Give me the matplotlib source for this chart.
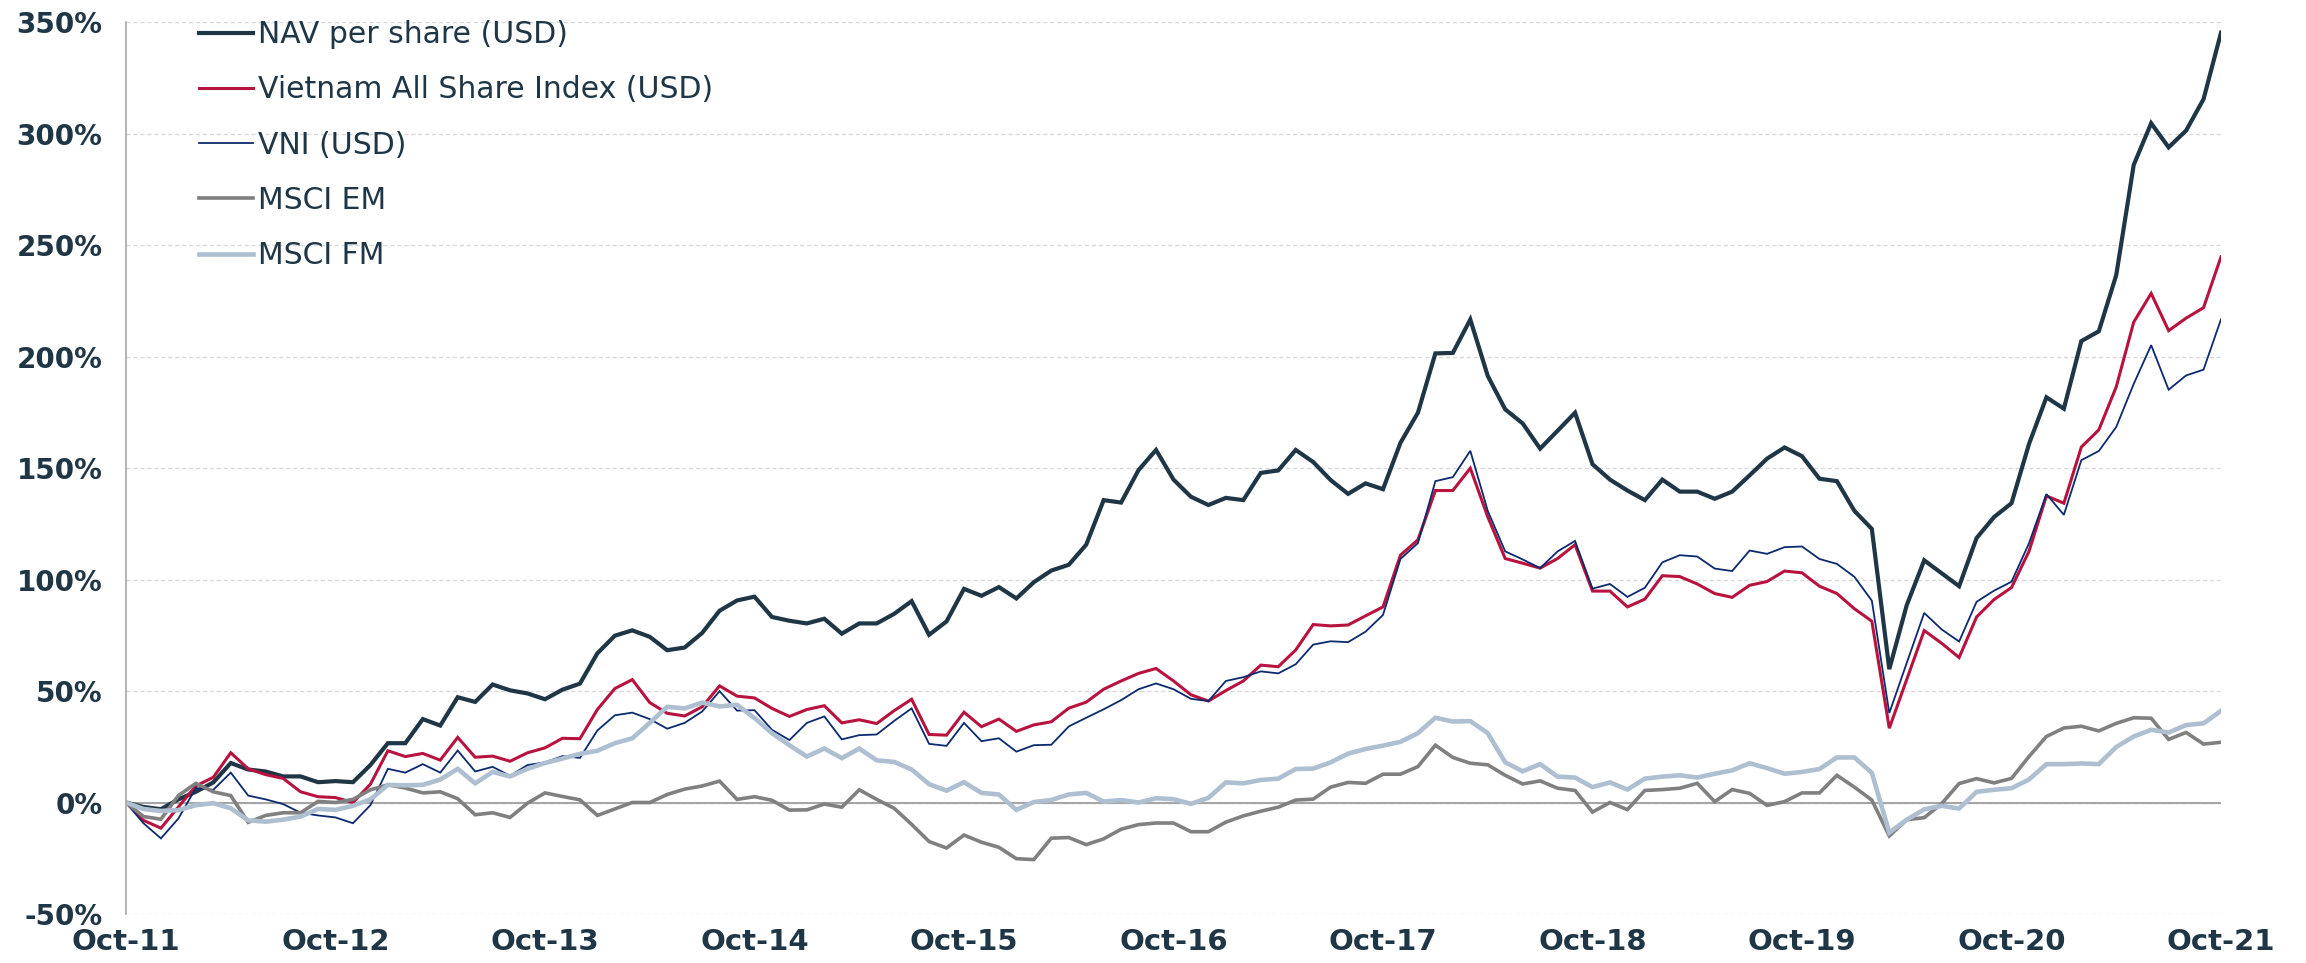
import numpy as np
import matplotlib
matplotlib.use('Agg')
import matplotlib.pyplot as plt
from matplotlib.ticker import FuncFormatter

# Dados mensais (Oct-11 .. Oct-21), retorno acumulado em %
nav = [
    0, -2, -3, 1.4, 4.8, 9, 17.7, 14.8, 13.9, 11.7,
    11.7, 9.1, 9.6, 9.1, 16.8, 26.6, 26.6, 37.4, 34.5, 47.2,
    45.1, 52.9, 50.3, 48.9, 46.3, 50.6, 53.3, 66.9, 74.8, 77.2,
    74.3, 68.3, 69.5, 76, 86, 90.6, 92.3, 83.2, 81.5, 80.3,
    82.4, 75.7, 80.3, 80.3, 84.6, 90.3, 75.2, 81.2, 95.8, 92.7,
    96.6, 91.5, 98.8, 104, 106.6, 115.6, 135.6, 134.5, 149.1, 158.1,
    144.8, 137.1, 133.4, 136.6, 135.6, 147.8, 148.9, 158.1, 152.7, 144.6,
    138.4, 143.1, 140.5, 161.3, 174.8, 201.4, 201.6, 216.6, 191.3, 176.3,
    170, 158.7, 166.7, 174.8, 151.7, 144.8, 139.9, 135.6, 144.8, 139.4,
    139.4, 136.2, 139.4, 146.7, 154.2, 159.2, 155.3, 145.2, 144.1, 130.8,
    122.7, 59.8, 88.5, 108.6, 102.8, 97, 118.6, 128, 134.2, 160.7,
    181.7, 176.6, 206.9, 211.3, 236.5, 285.9, 304.6, 293.8, 301.3, 315.4,
    345.2,
]

vnas = [
    0, -8, -11.5, -2, 7.4, 11.3, 22.3, 15.1, 12.5, 10.8,
    4.8, 2.6, 2.2, 0, 8.2, 23.2, 20.6, 22, 19, 29.2,
    20.3, 20.8, 18.5, 22.3, 24.5, 28.8, 28.6, 41.7, 51.1, 55.1,
    44.8, 40, 38.8, 42.9, 52.3, 47.7, 46.9, 42.2, 38.6, 41.7,
    43.4, 35.7, 37.1, 35.4, 41.2, 46.3, 30.5, 30.2, 40.5, 34,
    37.4, 31.9, 34.8, 36.2, 42.3, 45, 50.8, 54.5, 57.9, 60.1,
    54.5, 48.3, 45.5, 50.2, 54.5, 61.6, 60.9, 68.4, 79.8, 79.2,
    79.6, 83.7, 87.7, 110.9, 117.8, 139.9, 139.9, 149.9, 128.1, 109.4,
    107.3, 105.1, 109.4, 115.6, 94.8, 94.8, 87.7, 91.2, 101.7, 101.3,
    98, 93.7, 92, 97.4, 99.1, 103.8, 103, 97, 93.7, 86.9,
    81.3, 33.3, 55.2, 77.1, 71.4, 65, 83.2, 91, 96.4, 112.6,
    137.5, 134.2, 159.4, 167.1, 186.4, 215.4, 228.3, 211.6, 217.2, 221.9,
    244.7,
]

vni = [
    0, -9.3, -16.1, -7.2, 6.5, 5.7, 13.4, 3.1, 1.4, -0.7,
    -4.6, -5.8, -6.7, -9.3, -1.2, 15.1, 13.4, 17.2, 13.4, 23.3,
    13.9, 16, 12, 16.8, 18, 20.8, 20, 32.3, 39.1, 40.3,
    37.4, 33.1, 35.7, 40.8, 49.9, 41.2, 41.4, 32.6, 28, 35.7,
    38.6, 28.3, 30.2, 30.5, 36.6, 42.2, 26.3, 25.4, 35.7, 27.5,
    28.8, 22.8, 25.7, 25.9, 34.1, 38, 41.8, 45.9, 50.8, 53.4,
    50.8, 46.5, 45.5, 54.5, 56.2, 58.8, 57.9, 62, 70.8, 72.3,
    71.9, 76.6, 84.1, 109.2, 116.3, 144.1, 145.9, 157.7, 130.8, 112.6,
    109, 105.1, 112.6, 117.3, 95.9, 98, 92.2, 96.3, 107.7, 110.9,
    110.3, 104.9, 103.8, 113, 111.5, 114.5, 114.8, 109.2, 107, 101.2,
    90.5, 40.1, 62.6, 85, 77.6, 72.2, 90, 95, 99, 116.2,
    138.3, 129, 153.5, 157.6, 168.4, 187.7, 205.1, 185.1, 191.5, 194.1,
    216.7,
]

msci_em = [
    0, -6.3, -7.5, 3.1, 8.6, 4.8, 3.1, -8.9, -5.8, -4.6,
    -4.6, 0.5, 0, 1.4, 5.7, 7.9, 6.5, 4.3, 4.8, 1.7,
    -5.5, -4.6, -6.7, -0.3, 4.3, 2.7, 1.2, -5.8, -2.9, 0,
    0, 3.6, 6, 7.4, 9.6, 1.4, 2.6, 1, -3.4, -3.3,
    -0.7, -2.1, 5.7, 1.4, -2.6, -9.8, -17.5, -20.4, -14.6, -17.8,
    -20.1, -25.2, -25.6, -16, -15.7, -18.9, -16.3, -12, -9.9, -9.2,
    -9.2, -13.1, -13.1, -8.8, -6, -3.9, -2.1, 1.1, 1.5, 6.9,
    9, 8.6, 12.7, 12.7, 16.1, 25.7, 20.2, 17.6, 16.9, 12.2,
    8.3, 9.7, 6.4, 5.4, -4.3, 0, -3.2, 5.4, 5.8, 6.4,
    8.6, 0.4, 5.8, 4.1, -1.3, 0.4, 4.3, 4.3, 12.2, 6.9,
    1.1, -15, -7.7, -6.8, -0.5, 8.5, 10.7, 8.8, 10.8, 20.6,
    29.6, 33.4, 34.2, 32.1, 35.5, 38, 37.8, 28.3, 31.4, 26.2,
    27,
]

msci_fm = [
    0, -2.9, -3.8, -3.4, -1.2, -0.3, -2.6, -8, -8.6, -7.7,
    -6.3, -2.9, -3.3, -1.5, 1.4, 7.9, 7.7, 7.9, 10.3, 15.1,
    8.6, 13.7, 11.7, 15.1, 17.7, 19.7, 21.8, 23.2, 26.6, 28.8,
    35.7, 42.9, 42.2, 44.8, 43.1, 43.8, 37.9, 31.1, 25.7, 20.6,
    24.2, 19.9, 24.2, 18.9, 18.2, 14.8, 8.2, 5.3, 9.1, 4.3,
    3.6, -3.3, 0.2, 1.1, 3.6, 4.3, 0.4, 1.1, 0, 1.9,
    1.5, -0.6, 2.1, 9, 8.6, 10.1, 10.7, 15, 15.2, 18,
    21.9, 24, 25.5, 27.2, 31.1, 38, 36.3, 36.5, 31.1, 18,
    14, 17.2, 11.6, 11.2, 6.9, 9, 5.8, 10.7, 11.6, 12.2,
    11.2, 12.9, 14.4, 17.6, 15.4, 12.9, 13.7, 15, 20.2, 20.2,
    13.3, -13.5, -7.7, -3.1, -1.5, -2.7, 4.8, 5.7, 6.4, 10.3,
    17.2, 17.2, 17.5, 17.2, 24.9, 29.6, 32.6, 31.4, 34.7, 35.5,
    41.1,
]

tick_labels = ['Oct-11', 'Oct-12', 'Oct-13', 'Oct-14', 'Oct-15', 'Oct-16',
               'Oct-17', 'Oct-18', 'Oct-19', 'Oct-20', 'Oct-21']

series = [
    ('NAV per share (USD)', nav, '#1f3646', 3.0),
    ('Vietnam All Share Index (USD)', vnas, '#b8123e', 2.2),
    ('VNI (USD)', vni, '#0b2a6f', 1.3),
    ('MSCI EM', msci_em, '#808080', 2.6),
    ('MSCI FM', msci_fm, '#adbfd0', 3.3),
]

texto = '#1f3646'

fig = plt.figure(figsize=(23.06, 9.63), dpi=100)
ax = fig.add_axes([126 / 2306, 1 - 914 / 963, (2221 - 126) / 2306, (914 - 22) / 963])

x = np.arange(len(nav))
linhas = []
for nome, dados, cor, lw in series:
    l, = ax.plot(x, dados, color=cor, lw=lw, label=nome, solid_joinstyle='miter')
    linhas.append(l)

ax.axhline(0, color='#a6a6a6', lw=1.5, zorder=1)

ax.set_xlim(0, 120)
ax.set_ylim(-50, 350)
ax.set_yticks(np.arange(-50, 351, 50))
ax.yaxis.set_major_formatter(FuncFormatter(lambda v, p: f'{v:.0f}%'))
ax.set_xticks(np.arange(0, 121, 12))
ax.set_xticklabels(tick_labels)

ax.grid(axis='y', linestyle=(0, (3, 2)), color='#d9d9d9', lw=1, zorder=0)
ax.set_axisbelow(True)

for s in ['top', 'right', 'bottom']:
    ax.spines[s].set_visible(False)
ax.spines['left'].set_color('#a6a6a6')
ax.spines['left'].set_linewidth(1.2)

ax.tick_params(axis='y', length=0, pad=17, labelsize=20, labelcolor=texto)
ax.tick_params(axis='x', length=0, pad=10, labelsize=21, labelcolor=texto)
for t in ax.get_xticklabels() + ax.get_yticklabels():
    t.set_fontweight('bold')

leg = fig.legend(handles=linhas, loc='upper left', bbox_to_anchor=(199 / 2306, 1 - 20 / 963),
                 frameon=False, fontsize=21.5, handlelength=1.8, handletextpad=0.17,
                 labelspacing=0.88, borderpad=0, borderaxespad=0)
for t in leg.get_texts():
    t.set_color(texto)

fig.savefig('out.png', dpi=100)
